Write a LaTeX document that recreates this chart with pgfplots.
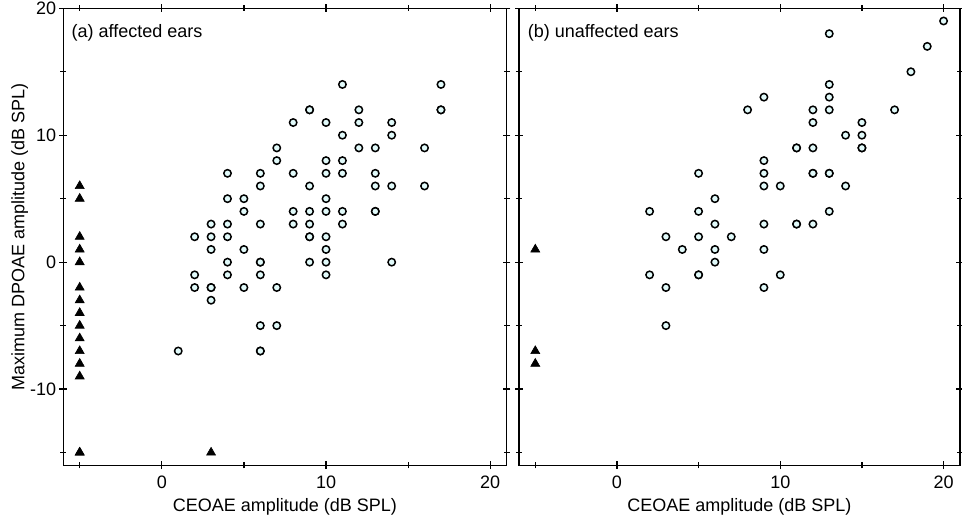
\documentclass[border=0pt]{standalone}
\usepackage{fontspec}
\setmainfont{Liberation Sans}
\usepackage{pgfplots}
\usepackage{pgfplotstable}
\pgfplotsset{compat=1.18}
\definecolor{cfill}{RGB}{225,250,250}

\pgfplotstableread{
x y
1 -7
2 2
2 -1
2 -2
3 3
3 2
3 1
3 -2
3 -2
3 -3
4 7
4 5
4 3
4 2
4 0
4 -1
5 5
5 4
5 1
5 -2
6 7
6 6
6 3
6 0
6 0
6 -1
6 -5
6 -7
6 -7
7 9
7 8
7 -2
7 -5
8 11
8 7
8 4
8 3
9 12
9 12
9 6
9 4
9 3
9 2
9 2
9 0
10 11
10 8
10 7
10 5
10 4
10 2
10 1
10 0
10 -1
11 14
11 10
11 8
11 7
11 4
11 3
12 12
12 11
12 9
13 9
13 7
13 6
13 4
13 4
14 11
14 10
14 6
14 0
16 9
16 6
17 14
17 12
17 12
}\affcirc

\pgfplotstableread{
x y
-5 6
-5 5
-5 2
-5 1
-5 0
-5 -2
-5 -3
-5 -4
-5 -5
-5 -6
-5 -7
-5 -8
-5 -9
-5 -15
-5 -15
3 -15
}\afftri

\pgfplotstableread{
x y
2 4
2 -1
3 2
3 -2
3 -5
4 1
5 7
5 4
5 2
5 -1
5 -1
6 5
6 3
6 1
6 0
7 2
8 12
9 13
9 8
9 7
9 6
9 3
9 1
9 -2
10 6
10 -1
11 9
11 9
11 3
11 3
12 12
12 11
12 9
12 7
12 7
12 3
13 18
13 14
13 13
13 12
13 7
13 7
13 4
14 10
14 6
15 11
15 10
15 9
15 9
17 12
18 15
19 17
20 19
}\unaffcirc

\pgfplotstableread{
x y
-5 1
-5 -7
-5 -8
}\unafftri

\pgfplotsset{
  panel/.style={
    scale only axis, height=228.5pt,
    xmin=-6, xmax=21, ymin=-16, ymax=20,
    xtick={0,10,20}, ytick={-10,0,10,20},
    minor xtick={-5,5,15}, minor ytick={-15,-5,5,15},
    tick align=center, major tick length=3.8pt, minor tick length=3pt,
    xtick pos=both, ytick pos=both,
    axis line style={line width=0.75pt},
    every tick/.style={black, line width=0.6pt},
    ticklabel style={font=\fontsize{9}{11}\selectfont},
    yticklabel style={xshift=1.8pt},
    /pgf/number format/assume math mode=true,
    xlabel={CEOAE amplitude (dB SPL)},
    every axis x label/.style={at={([yshift=-23.2pt]rel axis cs:0.5,0)}, anchor=base,
      font=\fontsize{9}{11}\selectfont},
    every axis y label/.style={at={([xshift=-19.4pt]rel axis cs:0,0.5)}, anchor=base, rotate=90,
      font=\fontsize{9}{11}\selectfont},
  },
  circ/.style={only marks, mark=*, mark size=1.85pt,
    mark options={fill=cfill, draw=black, line width=0.75pt}},
  tri/.style={only marks, mark=triangle*, mark size=2.6pt,
    mark options={fill=black, draw=black, line width=0.3pt}},
}

\begin{document}
\begin{tikzpicture}
\begin{axis}[panel, width=221.7pt, at={(0pt,0pt)}, anchor=south west,
  ylabel={Maximum DPOAE amplitude (dB SPL)}]
\addplot[circ] table[x=x,y=y] {\affcirc};
\addplot[tri] table[x=x,y=y] {\afftri};
\node[anchor=base west, inner sep=0pt, font=\fontsize{9}{11}\selectfont]
  at ([xshift=4pt,yshift=-14.6pt]rel axis cs:0,1) {(a) affected ears};
\end{axis}
\begin{axis}[panel, width=220.5pt, at={(227.85pt,0pt)}, anchor=south west,
  yticklabels={}]
\addplot[circ] table[x=x,y=y] {\unaffcirc};
\addplot[tri] table[x=x,y=y] {\unafftri};
\node[anchor=base west, inner sep=0pt, font=\fontsize{9}{11}\selectfont]
  at ([xshift=4.3pt,yshift=-14.6pt]rel axis cs:0,1) {(b) unaffected ears};
\end{axis}
\pgfresetboundingbox
\useasboundingbox (-31.65pt,-26.35pt) rectangle (449.4pt,232.65pt);
\end{tikzpicture}
\end{document}
